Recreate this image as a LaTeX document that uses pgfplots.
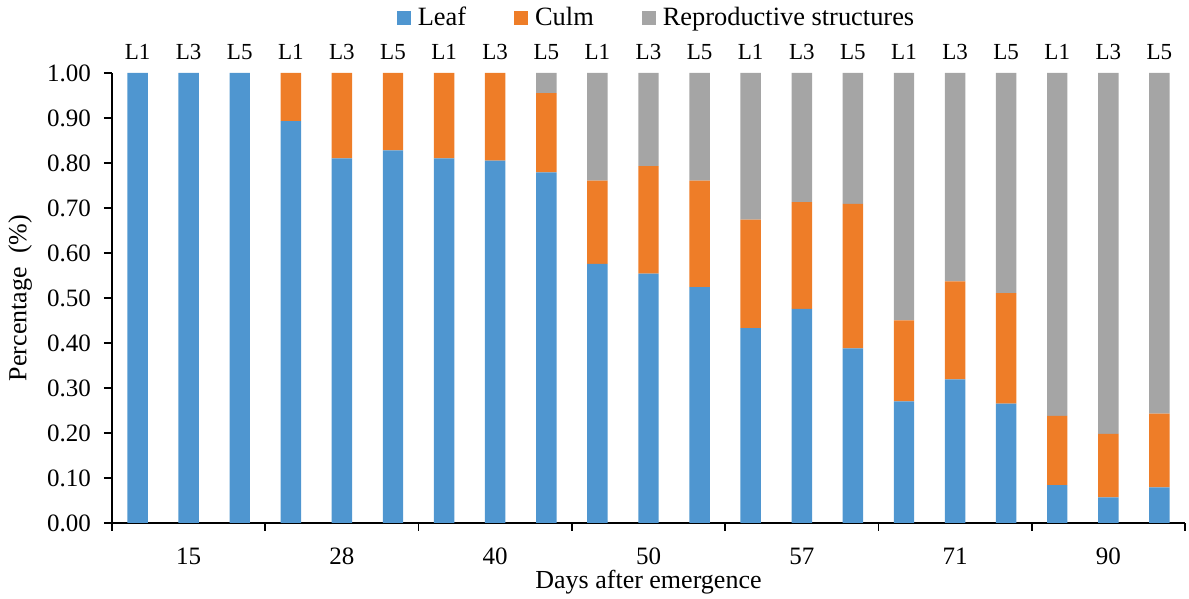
\documentclass[border=0pt]{standalone}
\usepackage{fontspec}
\setmainfont{Liberation Serif}
\usepackage{pgfplots}
\pgfplotsset{compat=1.18}
\usepackage{pgfplotstable}
\definecolor{cleaf}{RGB}{79,150,208}
\definecolor{cculm}{RGB}{238,125,40}
\definecolor{crep}{RGB}{165,165,165}

\pgfplotstableread{
x    leaf  culm  rep
0.5  1.000 0.000 0.000
1.5  1.000 0.000 0.000
2.5  1.000 0.000 0.000
3.5  0.893 0.107 0.000
4.5  0.810 0.190 0.000
5.5  0.828 0.172 0.000
6.5  0.810 0.190 0.000
7.5  0.805 0.195 0.000
8.5  0.779 0.176 0.045
9.5  0.576 0.185 0.239
10.5 0.554 0.239 0.207
11.5 0.524 0.237 0.239
12.5 0.433 0.241 0.326
13.5 0.476 0.237 0.287
14.5 0.388 0.321 0.291
15.5 0.270 0.180 0.550
16.5 0.319 0.218 0.463
17.5 0.265 0.246 0.489
18.5 0.084 0.154 0.762
19.5 0.057 0.141 0.802
20.5 0.079 0.164 0.757
}\data

\begin{document}
\begin{tikzpicture}[lab/.style={font=\fontsize{11.5}{13}\selectfont, anchor=base, yshift=6.5pt}]
\begin{axis}[
  scale only axis,
  width=536.5pt, height=225pt,
  ybar stacked,
  bar width=0.4,
  xmin=0, xmax=21,
  ymin=0, ymax=1,
  axis x line=bottom, axis y line=left,
  axis line style={-, line width=0.8pt},
  tick style={line width=0.8pt, black},
  tick align=outside,
  xtick={1.5,4.5,...,19.5},
  xticklabels={15,28,40,50,57,71,90},
  major x tick style={draw=none},
  minor xtick={0,3,...,21},
  minor tick length=4pt,
  ytick={0,0.1,...,1.01},
  major tick length=4pt,
  yticklabel style={/tikz/xshift=-3pt, /pgf/number format/.cd, fixed, fixed zerofill, precision=2},
  xticklabel style={/tikz/yshift=-5pt},
  ticklabel style={font=\fontsize{12.5}{14}\selectfont},
  /pgf/number format/assume math mode=true,
  xlabel={Days after emergence},
  ylabel={Percentage\ \ (\%)},
  label style={font=\fontsize{13}{15}\selectfont},
  xlabel style={at={(axis description cs:0.5,-0.131)}, anchor=center},
  ylabel style={at={(axis description cs:-0.0857,0.5)}, anchor=center},
  legend columns=3,
  legend style={at={(0.5,1)}, anchor=center, xshift=4.5pt, yshift=27.5pt, draw=none,
    font=\fontsize{13.2}{15}\selectfont,
    /tikz/every odd column/.append style={column sep=1.5pt},
    /tikz/every even column/.append style={column sep=22pt},
    inner sep=0pt},
  legend image code/.code={\fill[#1] (0pt,-3.5pt) rectangle (7pt,3.5pt);},
  clip=false,
]
\addplot[fill=cleaf, draw=none] table[x=x, y=leaf] {\data};
\addplot[fill=cculm, draw=none] table[x=x, y=culm] {\data};
\addplot[fill=crep, draw=none] table[x=x, y=rep] {\data};
\legend{Leaf, Culm, Reproductive structures}
\foreach \i/\l in {0.5/L1,1.5/L3,2.5/L5,3.5/L1,4.5/L3,5.5/L5,6.5/L1,7.5/L3,8.5/L5,9.5/L1,10.5/L3,11.5/L5,12.5/L1,13.5/L3,14.5/L5,15.5/L1,16.5/L3,17.5/L5,18.5/L1,19.5/L3,20.5/L5}{
  \edef\temp{\noexpand\node[lab] at (axis cs:\i,1) {\l};}\temp
}
\coordinate (bl) at (rel axis cs:0,0);
\end{axis}
\pgfresetboundingbox
\path (bl) ++(-56pt,-38pt) rectangle ++(594.5pt,299.5pt);
\end{tikzpicture}
\end{document}
